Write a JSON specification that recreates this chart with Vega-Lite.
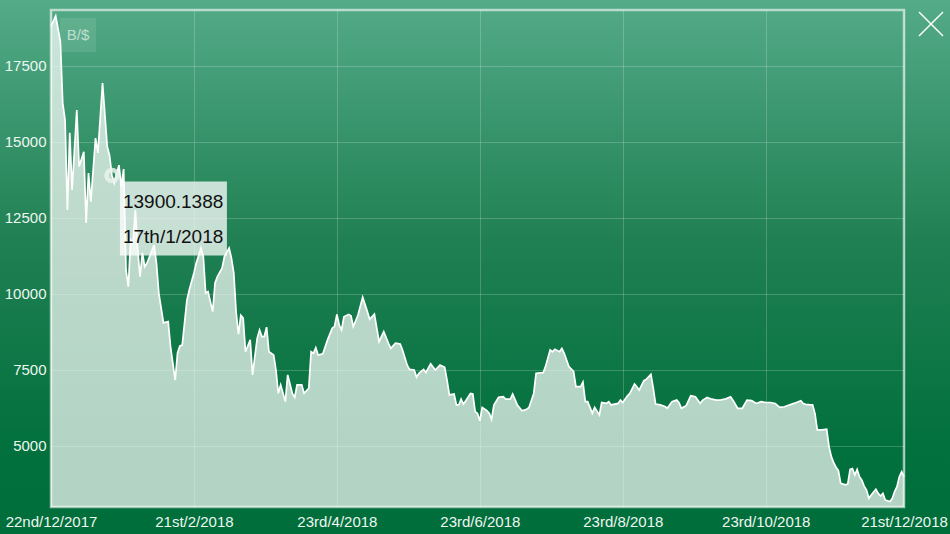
{
  "$schema": "https://vega.github.io/schema/vega-lite/v6.json",
  "width": 950,
  "height": 534,
  "autosize": {"type": "none"},
  "padding": 0,
  "background": "#006e3a",
  "view": {
    "fill": {"gradient": "linear", "x1": 0, "y1": 0, "x2": 0, "y2": 1,
      "stops": [
        {"offset": 0, "color": "#53ab87"},
        {"offset": 0.45, "color": "#208053"},
        {"offset": 0.82, "color": "#03713e"},
        {"offset": 1, "color": "#006e3a"}
      ]},
    "stroke": null
  },
  "config": {
    "font": "Liberation Sans",
    "axis": {
      "labelFont": "Liberation Sans",
      "labelFontSize": 15,
      "labelColor": "#eef6f2",
      "domain": false,
      "ticks": false,
      "gridColor": "#ffffff",
      "gridOpacity": 0.2,
      "gridWidth": 1,
      "title": null
    }
  },
  "data": {
    "values": [
      {"date":"2017-12-22","v":18800},{"date":"2017-12-24","v":19150},{"date":"2017-12-26","v":18300},{"date":"2017-12-27","v":16280},
      {"date":"2017-12-28","v":15720},{"date":"2017-12-29","v":12760},{"date":"2017-12-30","v":15300},{"date":"2017-12-31","v":13420},
      {"date":"2018-01-02","v":16050},{"date":"2018-01-03","v":14190},{"date":"2018-01-05","v":14680},{"date":"2018-01-06","v":12340},
      {"date":"2018-01-07","v":13980},{"date":"2018-01-08","v":13040},{"date":"2018-01-10","v":15130},{"date":"2018-01-11","v":14640},
      {"date":"2018-01-13","v":16940},{"date":"2018-01-15","v":14850},{"date":"2018-01-16","v":14550},{"date":"2018-01-17","v":13900.1388},
      {"date":"2018-01-18","v":13650},{"date":"2018-01-20","v":14240},{"date":"2018-01-21","v":13530},{"date":"2018-01-22","v":14110},
      {"date":"2018-01-23","v":10790},{"date":"2018-01-24","v":10240},{"date":"2018-01-25","v":11780},{"date":"2018-01-26","v":11680},
      {"date":"2018-01-27","v":12760},{"date":"2018-01-28","v":11450},{"date":"2018-01-29","v":10570},{"date":"2018-01-30","v":11350},
      {"date":"2018-01-31","v":10900},{"date":"2018-02-01","v":11020},{"date":"2018-02-04","v":11610},{"date":"2018-02-05","v":11020},
      {"date":"2018-02-06","v":10030},{"date":"2018-02-08","v":9050},{"date":"2018-02-10","v":9090},{"date":"2018-02-11","v":8270},
      {"date":"2018-02-13","v":7170},{"date":"2018-02-14","v":8060},{"date":"2018-02-15","v":8290},{"date":"2018-02-16","v":8320},
      {"date":"2018-02-18","v":9800},{"date":"2018-02-19","v":10130},{"date":"2018-02-21","v":10690},{"date":"2018-02-22","v":11020},
      {"date":"2018-02-24","v":11510},{"date":"2018-02-25","v":11230},{"date":"2018-02-26","v":10030},{"date":"2018-02-27","v":10080},
      {"date":"2018-03-01","v":9420},{"date":"2018-03-02","v":10360},{"date":"2018-03-03","v":10570},{"date":"2018-03-05","v":10850},
      {"date":"2018-03-06","v":11230},{"date":"2018-03-08","v":11510},{"date":"2018-03-09","v":11180},{"date":"2018-03-10","v":10690},
      {"date":"2018-03-11","v":9400},{"date":"2018-03-12","v":8680},{"date":"2018-03-13","v":9300},{"date":"2018-03-14","v":9210},
      {"date":"2018-03-15","v":8100},{"date":"2018-03-17","v":8490},{"date":"2018-03-18","v":7340},{"date":"2018-03-20","v":8550},
      {"date":"2018-03-21","v":8815},{"date":"2018-03-22","v":8600},{"date":"2018-03-23","v":8600},{"date":"2018-03-24","v":8910},
      {"date":"2018-03-25","v":8100},{"date":"2018-03-27","v":7990},{"date":"2018-03-28","v":7500},{"date":"2018-03-29","v":6730},
      {"date":"2018-03-30","v":7010},{"date":"2018-04-01","v":6460},{"date":"2018-04-02","v":7340},{"date":"2018-04-04","v":6730},
      {"date":"2018-04-05","v":6600},{"date":"2018-04-06","v":7010},{"date":"2018-04-08","v":7010},{"date":"2018-04-09","v":6730},
      {"date":"2018-04-11","v":6900},{"date":"2018-04-12","v":8100},{"date":"2018-04-13","v":8050},{"date":"2018-04-14","v":8230},
      {"date":"2018-04-15","v":7990},{"date":"2018-04-17","v":8030},{"date":"2018-04-19","v":8490},{"date":"2018-04-21","v":8870},
      {"date":"2018-04-22","v":8930},{"date":"2018-04-23","v":9330},{"date":"2018-04-24","v":8980},{"date":"2018-04-25","v":8815},
      {"date":"2018-04-26","v":9250},{"date":"2018-04-28","v":9330},{"date":"2018-04-29","v":9280},{"date":"2018-04-30","v":8930},
      {"date":"2018-05-02","v":9310},{"date":"2018-05-04","v":9890},{"date":"2018-05-06","v":9420},{"date":"2018-05-07","v":9170},
      {"date":"2018-05-09","v":9340},{"date":"2018-05-11","v":8430},{"date":"2018-05-13","v":8760},{"date":"2018-05-15","v":8380},
      {"date":"2018-05-16","v":8210},{"date":"2018-05-18","v":8380},{"date":"2018-05-20","v":8355},{"date":"2018-05-21","v":8160},
      {"date":"2018-05-23","v":7660},{"date":"2018-05-24","v":7520},{"date":"2018-05-26","v":7500},{"date":"2018-05-27","v":7260},
      {"date":"2018-05-28","v":7390},{"date":"2018-05-30","v":7520},{"date":"2018-05-31","v":7420},{"date":"2018-06-02","v":7700},
      {"date":"2018-06-04","v":7500},{"date":"2018-06-06","v":7660},{"date":"2018-06-08","v":7590},{"date":"2018-06-09","v":7170},
      {"date":"2018-06-10","v":6680},{"date":"2018-06-12","v":6710},{"date":"2018-06-13","v":6350},{"date":"2018-06-14","v":6350},
      {"date":"2018-06-15","v":6540},{"date":"2018-06-16","v":6380},{"date":"2018-06-17","v":6490},{"date":"2018-06-19","v":6730},
      {"date":"2018-06-20","v":6710},{"date":"2018-06-21","v":6130},{"date":"2018-06-22","v":6070},{"date":"2018-06-23","v":5830},
      {"date":"2018-06-24","v":6270},{"date":"2018-06-26","v":6160},{"date":"2018-06-27","v":6075},{"date":"2018-06-28","v":5880},
      {"date":"2018-06-29","v":6350},{"date":"2018-07-01","v":6600},{"date":"2018-07-03","v":6620},{"date":"2018-07-04","v":6540},
      {"date":"2018-07-06","v":6540},{"date":"2018-07-07","v":6710},{"date":"2018-07-09","v":6350},{"date":"2018-07-11","v":6160},
      {"date":"2018-07-13","v":6210},{"date":"2018-07-14","v":6270},{"date":"2018-07-16","v":6730},{"date":"2018-07-17","v":7390},
      {"date":"2018-07-19","v":7410},{"date":"2018-07-20","v":7410},{"date":"2018-07-21","v":7610},{"date":"2018-07-23","v":8160},
      {"date":"2018-07-24","v":8100},{"date":"2018-07-25","v":8180},{"date":"2018-07-27","v":8100},{"date":"2018-07-28","v":8210},
      {"date":"2018-07-29","v":8050},{"date":"2018-07-31","v":7610},{"date":"2018-08-02","v":7450},{"date":"2018-08-03","v":6950},
      {"date":"2018-08-05","v":6950},{"date":"2018-08-06","v":7100},{"date":"2018-08-07","v":6460},{"date":"2018-08-08","v":6460},
      {"date":"2018-08-10","v":6080},{"date":"2018-08-11","v":6270},{"date":"2018-08-13","v":6020},{"date":"2018-08-14","v":6430},
      {"date":"2018-08-16","v":6400},{"date":"2018-08-17","v":6460},{"date":"2018-08-18","v":6350},{"date":"2018-08-21","v":6400},
      {"date":"2018-08-22","v":6510},{"date":"2018-08-23","v":6430},{"date":"2018-08-25","v":6650},{"date":"2018-08-26","v":6730},
      {"date":"2018-08-28","v":7040},{"date":"2018-08-29","v":6950},{"date":"2018-08-30","v":6840},{"date":"2018-09-01","v":7150},
      {"date":"2018-09-02","v":7190},{"date":"2018-09-04","v":7360},{"date":"2018-09-05","v":6900},{"date":"2018-09-06","v":6380},
      {"date":"2018-09-08","v":6350},{"date":"2018-09-10","v":6300},{"date":"2018-09-11","v":6240},{"date":"2018-09-13","v":6460},
      {"date":"2018-09-15","v":6510},{"date":"2018-09-16","v":6420},{"date":"2018-09-17","v":6240},{"date":"2018-09-19","v":6320},
      {"date":"2018-09-21","v":6650},{"date":"2018-09-23","v":6620},{"date":"2018-09-25","v":6400},{"date":"2018-09-26","v":6500},
      {"date":"2018-09-28","v":6600},{"date":"2018-09-30","v":6540},{"date":"2018-10-02","v":6510},{"date":"2018-10-04","v":6520},
      {"date":"2018-10-06","v":6550},{"date":"2018-10-08","v":6620},{"date":"2018-10-09","v":6510},{"date":"2018-10-11","v":6240},
      {"date":"2018-10-13","v":6240},{"date":"2018-10-15","v":6510},{"date":"2018-10-17","v":6490},{"date":"2018-10-19","v":6400},
      {"date":"2018-10-21","v":6460},{"date":"2018-10-23","v":6430},{"date":"2018-10-25","v":6430},{"date":"2018-10-27","v":6400},
      {"date":"2018-10-29","v":6270},{"date":"2018-10-31","v":6290},{"date":"2018-11-02","v":6350},{"date":"2018-11-04","v":6400},
      {"date":"2018-11-07","v":6490},{"date":"2018-11-08","v":6400},{"date":"2018-11-09","v":6370},{"date":"2018-11-11","v":6350},
      {"date":"2018-11-12","v":6350},{"date":"2018-11-13","v":6070},{"date":"2018-11-14","v":5530},{"date":"2018-11-16","v":5530},
      {"date":"2018-11-18","v":5550},{"date":"2018-11-19","v":4980},{"date":"2018-11-20","v":4650},{"date":"2018-11-21","v":4450},
      {"date":"2018-11-22","v":4300},{"date":"2018-11-23","v":4190},{"date":"2018-11-24","v":3770},{"date":"2018-11-26","v":3720},
      {"date":"2018-11-27","v":3750},{"date":"2018-11-28","v":4230},{"date":"2018-11-29","v":4260},{"date":"2018-11-30","v":4045},
      {"date":"2018-12-01","v":4230},{"date":"2018-12-02","v":3990},{"date":"2018-12-03","v":3880},{"date":"2018-12-04","v":3680},
      {"date":"2018-12-05","v":3550},{"date":"2018-12-06","v":3280},{"date":"2018-12-07","v":3390},{"date":"2018-12-09","v":3575},
      {"date":"2018-12-10","v":3440},{"date":"2018-12-11","v":3355},{"date":"2018-12-12","v":3440},{"date":"2018-12-13","v":3225},
      {"date":"2018-12-15","v":3170},{"date":"2018-12-16","v":3280},{"date":"2018-12-17","v":3500},{"date":"2018-12-18","v":3660},
      {"date":"2018-12-19","v":3990},{"date":"2018-12-20","v":4150},{"date":"2018-12-21","v":3990}
    ]
  },
  "encoding": {
    "x": {
      "field": "date",
      "type": "temporal",
      "scale": {
        "type": "utc",
        "domain": [{"year": 2017, "month": 12, "date": 22, "utc": true}, {"year": 2018, "month": 12, "date": 21, "utc": true}],
        "range": [51, 904]
      },
      "axis": {
        "orient": "top",
        "offset": 0,
        "labelPadding": -514,
        "labelBaseline": "top",
        "labelFlush": false,
        "labelOverlap": false,
        "labelBound": false,
        "grid": true,
        "values": [
          {"year": 2017, "month": 12, "date": 22, "utc": true},
          {"year": 2018, "month": 2, "date": 21, "utc": true},
          {"year": 2018, "month": 4, "date": 23, "utc": true},
          {"year": 2018, "month": 6, "date": 23, "utc": true},
          {"year": 2018, "month": 8, "date": 23, "utc": true},
          {"year": 2018, "month": 10, "date": 23, "utc": true},
          {"year": 2018, "month": 12, "date": 21, "utc": true}
        ],
        "labelExpr": "utcdate(datum.value) + ((utcdate(datum.value)==1||utcdate(datum.value)==21||utcdate(datum.value)==31) ? 'st' : (utcdate(datum.value)==2||utcdate(datum.value)==22) ? 'nd' : (utcdate(datum.value)==3||utcdate(datum.value)==23) ? 'rd' : 'th') + '/' + (utcmonth(datum.value)+1) + '/' + utcyear(datum.value)"
      }
    },
    "y": {
      "field": "v",
      "type": "quantitative",
      "scale": {"domain": [2993, 19342], "range": [507, 10], "nice": false, "zero": false},
      "axis": {
        "orient": "left",
        "offset": -51,
        "labelPadding": 5,
        "grid": true,
        "format": "d",
        "values": [5000, 7500, 10000, 12500, 15000, 17500]
      }
    }
  },
  "layer": [
    {
      "transform": [{"filter": "datum.v == 13900.1388"}],
      "mark": {"type": "rect", "fill": "transparent", "stroke": "#ffffff", "strokeOpacity": 0.6, "strokeWidth": 2.5},
      "encoding": {
        "x": {"datum": {"year": 2017, "month": 12, "date": 22, "utc": true}, "type": "temporal"},
        "x2": {"datum": {"year": 2018, "month": 12, "date": 21, "utc": true}},
        "y": {"datum": 19342, "type": "quantitative"},
        "y2": {"datum": 2993}
      }
    },
    {
      "mark": {"type": "area", "color": "#ffffff", "fillOpacity": 0.7, "interpolate": "linear"},
      "encoding": {"y2": {"datum": 2993}}
    },
    {
      "mark": {"type": "line", "color": "#ffffff", "strokeWidth": 1.7, "interpolate": "linear"}
    },
    {
      "transform": [{"filter": "datum.v == 13900.1388"}],
      "mark": {"type": "rect", "fill": "#ffffff", "fillOpacity": 0.1, "xOffset": 9, "x2Offset": 45, "yOffset": 8, "y2Offset": 42},
      "encoding": {
        "x": {"datum": {"year": 2017, "month": 12, "date": 22, "utc": true}, "type": "temporal"},
        "x2": {"datum": {"year": 2017, "month": 12, "date": 22, "utc": true}},
        "y": {"datum": 19342, "type": "quantitative"},
        "y2": {"datum": 19342}
      }
    },
    {
      "transform": [{"filter": "datum.v == 13900.1388"}],
      "mark": {"type": "text", "text": "B/$", "fontSize": 15, "color": "#ffffff", "opacity": 0.6, "align": "center", "baseline": "middle", "dx": 27, "dy": 25},
      "encoding": {
        "x": {"datum": {"year": 2017, "month": 12, "date": 22, "utc": true}, "type": "temporal"},
        "y": {"datum": 19342, "type": "quantitative"}
      }
    },
    {
      "transform": [{"filter": "datum.v == 13900.1388"}],
      "mark": {"type": "rule", "color": "#ffffff", "strokeWidth": 1.4, "xOffset": 15, "x2Offset": 39, "yOffset": 2, "y2Offset": 26},
      "encoding": {
        "x": {"datum": {"year": 2018, "month": 12, "date": 21, "utc": true}, "type": "temporal"},
        "x2": {"datum": {"year": 2018, "month": 12, "date": 21, "utc": true}},
        "y": {"datum": 19342, "type": "quantitative"},
        "y2": {"datum": 19342}
      }
    },
    {
      "transform": [{"filter": "datum.v == 13900.1388"}],
      "mark": {"type": "rule", "color": "#ffffff", "strokeWidth": 1.4, "xOffset": 15, "x2Offset": 39, "yOffset": 26, "y2Offset": 2},
      "encoding": {
        "x": {"datum": {"year": 2018, "month": 12, "date": 21, "utc": true}, "type": "temporal"},
        "x2": {"datum": {"year": 2018, "month": 12, "date": 21, "utc": true}},
        "y": {"datum": 19342, "type": "quantitative"},
        "y2": {"datum": 19342}
      }
    },
    {
      "transform": [{"filter": "datum.v == 13900.1388"}],
      "mark": {"type": "point", "shape": "circle", "size": 120, "filled": false, "stroke": "#eaf3ee", "strokeWidth": 4.5, "opacity": 0.85}
    },
    {
      "transform": [{"filter": "datum.v == 13900.1388"}],
      "mark": {"type": "rect", "fill": "#ffffff", "fillOpacity": 0.75, "xOffset": 8, "x2Offset": 115, "yOffset": 6, "y2Offset": 80},
      "encoding": {
        "x2": {"field": "date"},
        "y2": {"field": "v"}
      }
    },
    {
      "transform": [{"filter": "datum.v == 13900.1388"}],
      "mark": {"type": "text", "fontSize": 19, "color": "#111111", "align": "left", "baseline": "middle", "dx": 11, "dy": 27},
      "encoding": {"text": {"field": "v", "type": "nominal"}}
    },
    {
      "transform": [
        {"filter": "datum.v == 13900.1388"},
        {"calculate": "utcdate(datum.date) + ((utcdate(datum.date)==1||utcdate(datum.date)==21||utcdate(datum.date)==31) ? 'st' : (utcdate(datum.date)==2||utcdate(datum.date)==22) ? 'nd' : (utcdate(datum.date)==3||utcdate(datum.date)==23) ? 'rd' : 'th') + '/' + (utcmonth(datum.date)+1) + '/' + utcyear(datum.date)", "as": "lab"}
      ],
      "mark": {"type": "text", "fontSize": 19, "color": "#111111", "align": "left", "baseline": "middle", "dx": 11, "dy": 62},
      "encoding": {"text": {"field": "lab", "type": "nominal"}}
    }
  ]
}
